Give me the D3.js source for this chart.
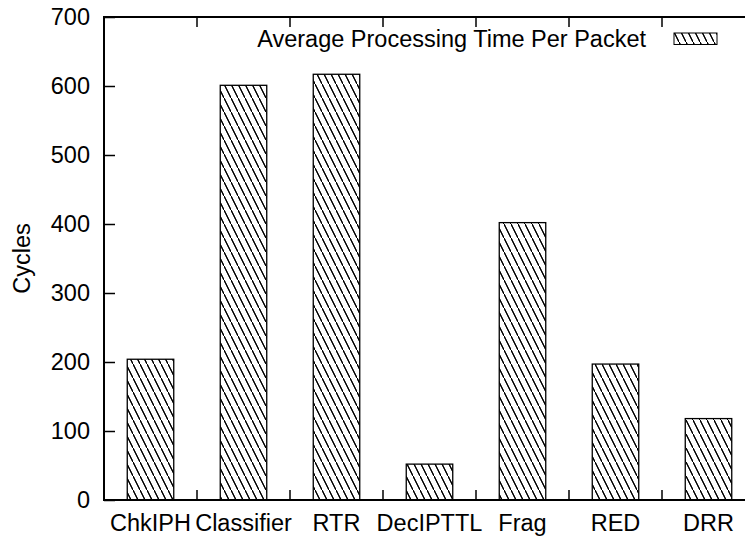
<!DOCTYPE html>
<html>
<head>
<meta charset="utf-8">
<script src="https://cdn.jsdelivr.net/npm/d3@7"></script>
<style>
  html, body { margin: 0; padding: 0; background: #fff; }
  svg { display: block; }
  text { font-family: "Liberation Sans", Arial, Helvetica, sans-serif; fill: #000; }
</style>
</head>
<body>
<script>
const categories = ["ChkIPH", "Classifier", "RTR", "DecIPTTL", "Frag", "RED", "DRR"];
const values = [204, 601, 617, 52, 402, 197, 118];
const yTicks = [0, 100, 200, 300, 400, 500, 600, 700];
const seriesName = "Average Processing Time Per Packet";
const yLabel = "Cycles";

const W = 745, H = 538;
const m = { left: 104, top: 17, bottom: 500, right: 755 };
const fs = 23.5;

const svg = d3.select("body").append("svg").attr("width", W).attr("height", H);

const defs = svg.append("defs");
const pat = defs.append("pattern")
  .attr("id", "hatch").attr("patternUnits", "userSpaceOnUse")
  .attr("width", 7).attr("height", 14);
pat.append("rect").attr("width", 7).attr("height", 14).attr("fill", "#fff");
pat.append("path")
  .attr("d", "M-7,-14 L14,28 M0,0 L7,14 M-3.5,-7 L3.5,7 M3.5,7 L10.5,21")
  .attr("stroke", "#000").attr("stroke-width", 1);

const x = d3.scaleBand().domain(categories).range([m.left, m.right])
  .paddingInner(0.5).paddingOuter(0.25);
const y = d3.scaleLinear().domain([0, 700]).range([m.bottom, m.top]);
const step = x.step();

// bars
svg.append("g").selectAll("rect").data(categories).join("rect")
  .attr("x", d => x(d))
  .attr("y", (d, i) => y(values[i]))
  .attr("width", x.bandwidth())
  .attr("height", (d, i) => y(0) - y(values[i]))
  .attr("fill", "url(#hatch)")
  .attr("stroke", "#000").attr("stroke-width", 1.3);

// y axis
const yAxis = d3.axisLeft(y).tickValues(yTicks).tickSize(-11).tickPadding(14);
const gy = svg.append("g").attr("transform", `translate(${m.left},0)`).call(yAxis);
gy.select(".domain").remove();
gy.selectAll(".tick line").attr("stroke", "#000").attr("stroke-width", 1.5);
gy.selectAll(".tick text").attr("font-size", fs).attr("font-family", "Liberation Sans, Arial, sans-serif");

// x boundary ticks (bottom & top)
const bounds = categories.slice(1).map(c => x(c) - step * 0.25);
svg.append("g").selectAll("line.b").data(bounds).join("line")
  .attr("x1", d => d).attr("x2", d => d)
  .attr("y1", m.bottom).attr("y2", m.bottom - 10)
  .attr("stroke", "#000").attr("stroke-width", 1.5);
svg.append("g").selectAll("line.t").data(bounds).join("line")
  .attr("x1", d => d).attr("x2", d => d)
  .attr("y1", m.top).attr("y2", m.top + 10)
  .attr("stroke", "#000").attr("stroke-width", 1.5);

// x labels
svg.append("g").selectAll("text").data(categories).join("text")
  .attr("x", d => x(d) + x.bandwidth() / 2)
  .attr("y", 531)
  .attr("text-anchor", "middle")
  .attr("font-size", fs)
  .text(d => d);

// frame
svg.append("rect")
  .attr("x", m.left).attr("y", m.top)
  .attr("width", m.right - m.left).attr("height", m.bottom - m.top)
  .attr("fill", "none").attr("stroke", "#000").attr("stroke-width", 2);

// y label
svg.append("text")
  .attr("transform", `translate(30,${(m.top + m.bottom) / 2}) rotate(-90)`)
  .attr("text-anchor", "middle")
  .attr("font-size", fs)
  .text(yLabel);

// legend
svg.append("text")
  .attr("x", 646).attr("y", 47)
  .attr("text-anchor", "end")
  .attr("font-size", fs)
  .text(seriesName);
svg.append("rect")
  .attr("x", 674).attr("y", 33).attr("width", 43).attr("height", 11.5)
  .attr("fill", "url(#hatch)").attr("stroke", "#000").attr("stroke-width", 1);
</script>
</body>
</html>
